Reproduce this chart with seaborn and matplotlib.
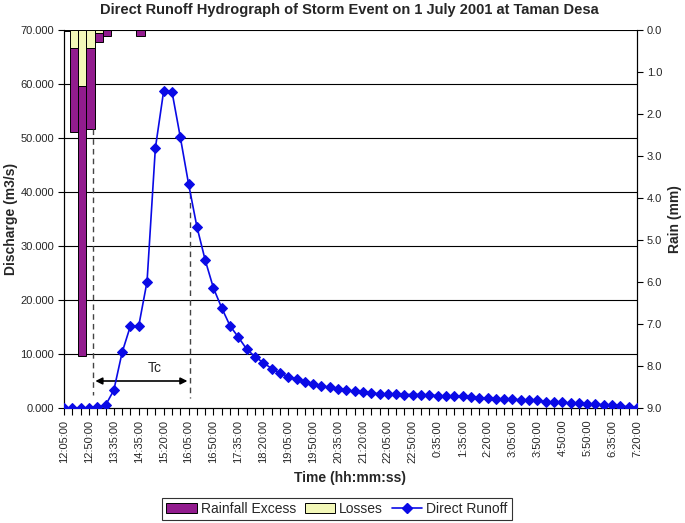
import matplotlib
matplotlib.use("Agg")
import matplotlib.pyplot as plt
import seaborn as sns
import numpy as np
import pandas as pd
from matplotlib.patches import Patch
from matplotlib.lines import Line2D

sns.set_style("ticks")
plt.rcParams['font.family'] = ['Liberation Sans', 'DejaVu Sans']

# ---- data ----
tick_labels = ["12:05:00", "12:50:00", "13:35:00", "14:35:00", "15:20:00", "16:05:00",
               "16:50:00", "17:35:00", "18:20:00", "19:05:00", "19:50:00", "20:35:00",
               "21:20:00", "22:05:00", "22:50:00", "0:35:00", "1:35:00", "2:20:00",
               "3:05:00", "3:50:00", "4:50:00", "5:50:00", "6:35:00", "7:20:00"]

direct_runoff = [0.0, 0.0, 0.0, 0.0, 0.2, 0.5, 3.3, 10.3, 15.2, 15.2,
                 23.4, 48.1, 58.7, 58.6, 50.2, 41.5, 33.6, 27.4, 22.2, 18.5,
                 15.2, 13.1, 10.9, 9.5, 8.4, 7.3, 6.5, 5.8, 5.4, 4.9,
                 4.4, 4.1, 3.8, 3.5, 3.3, 3.1, 2.9, 2.8, 2.6, 2.6,
                 2.6, 2.5, 2.5, 2.5, 2.4, 2.3, 2.2, 2.2, 2.2, 2.1,
                 1.9, 1.85, 1.7, 1.7, 1.6, 1.5, 1.4, 1.4, 1.1, 1.1,
                 1.05, 0.9, 0.9, 0.7, 0.7, 0.6, 0.55, 0.3, 0.25, 0.0]

rain_index = [0, 1, 2, 3, 4, 5, 9]
rain_losses = [0.03, 0.42, 1.33, 0.42, 0.06, 0.0, 0.0]
rain_excess = [0.0, 2.0, 6.42, 1.94, 0.23, 0.14, 0.14]

# ---- figure ----
fig = plt.figure(figsize=(6.85, 5.23), dpi=100)
ax = fig.add_axes([64/685, 1-408/523, (637-64)/685, (408-30)/523])
ax2 = ax.twinx()

df = pd.DataFrame({"idx": np.arange(len(direct_runoff)), "runoff": direct_runoff})

# gridlines
for v in range(10, 80, 10):
    ax.axhline(v, color='black', lw=0.8, zorder=0)

# rain bars on secondary axis (inverted)
purple = '#921C8E'
yellow = '#F3F8B8'
bar_off = 0.2
xb = np.array(rain_index) + bar_off
ax2.bar(xb, rain_losses, width=1.0, bottom=0, color=yellow, edgecolor='black', linewidth=0.7, zorder=2)
ax2.bar(xb, rain_excess, width=1.0, bottom=rain_losses, color=purple, edgecolor='black', linewidth=0.7, zorder=2)
ax2.set_ylim(9, 0)
ax2.set_yticks(np.arange(0, 10, 1))
ax2.set_yticklabels([f"{v:.1f}" for v in range(10)], fontsize=8)
ax2.set_ylabel("Rain (mm)", fontsize=10, fontweight='bold')
ax2.yaxis.set_label_coords((668-64)/573, 0.5)

# overlay axis for runoff line so it sits above the bars
ax3 = ax.twinx()
ax3.set_ylim(0, 70)
ax3.axis('off')
sns.lineplot(data=df, x="idx", y="runoff", ax=ax3, color='#0A0AE6', lw=1.2,
             marker='D', markersize=5, markeredgecolor='#0A0AE6', zorder=5)
ax3.set_xlim(0, len(direct_runoff) - 1)

ax.set_ylim(0, 70)
ax.set_xlim(0, len(direct_runoff) - 1)
ax2.set_xlim(0, len(direct_runoff) - 1)
ax.set_yticks(np.arange(0, 80, 10))
ax.set_yticklabels([f"{v:.3f}" for v in range(0, 80, 10)], fontsize=8)
ax.set_xticks(np.arange(0, len(direct_runoff), 3))
ax.set_xticks(np.arange(0, len(direct_runoff), 1), minor=True)
ax.set_xticklabels(tick_labels, rotation=90, fontsize=8)
ax.tick_params(axis='x', which='both', length=5, width=0.8, color='black')
ax.tick_params(axis='y', length=4, width=0.8, color='black', pad=3)
ax2.tick_params(axis='y', length=4, width=0.8, color='black', pad=3)
ax.set_ylabel("Discharge (m3/s)", fontsize=10, fontweight='bold')
ax.yaxis.set_label_coords((18-64)/573, 0.5)
ax.set_xlabel("Time (hh:mm:ss)", fontsize=10, fontweight='bold', labelpad=6)
for a in (ax, ax2):
    for s in a.spines.values():
        s.set_color('black')
        s.set_linewidth(0.8)
    a.spines['top'].set_visible(False)

# Tc annotation
ax3.plot([3.44, 3.44], [51.7, 2.4], ls=(0, (4, 3)), color='#444444', lw=1.0, zorder=4)
ax3.plot([15.2, 15.2], [41.7, 1.85], ls=(0, (4, 3)), color='#444444', lw=1.0, zorder=4)
ax3.annotate("", xy=(3.44, 5.0), xytext=(15.2, 5.0),
             arrowprops=dict(arrowstyle='<|-|>', color='black', lw=1.2, mutation_scale=10))
ax3.text(10.9, 7.4, "Tc", fontsize=10, ha='center', va='center')

fig.suptitle("Direct Runoff Hydrograph of Storm Event on 1 July 2001 at Taman Desa",
             fontsize=10.5, fontweight='bold', x=349/685, y=1-10/523, va='center')

handles = [Patch(facecolor=purple, edgecolor='black', linewidth=0.7),
           Patch(facecolor=yellow, edgecolor='black', linewidth=0.7),
           Line2D([0], [0], color='#0A0AE6', lw=1.2, marker='D', markersize=5)]
leg = fig.legend(handles, ["Rainfall Excess", "Losses", "Direct Runoff"], ncol=3,
                 loc='center', bbox_to_anchor=(337/685, 1-509/523), frameon=True,
                 fancybox=False, edgecolor='black', fontsize=10, handlelength=2.2,
                 handletextpad=0.3, columnspacing=0.6, borderpad=0.3)
leg.get_frame().set_linewidth(0.8)

fig.savefig("out.png", dpi=100)
